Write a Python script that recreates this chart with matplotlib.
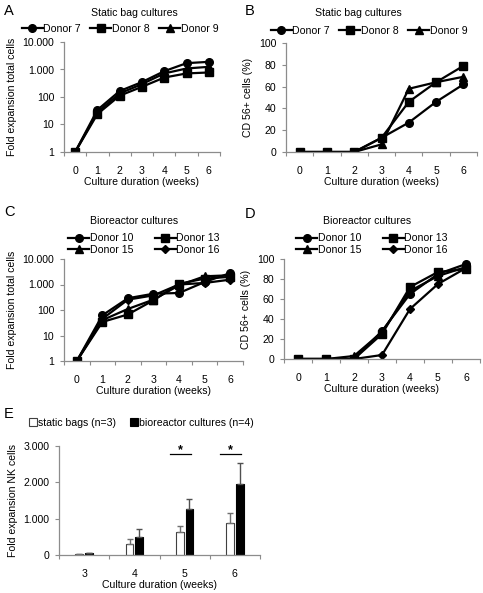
import numpy as np
import matplotlib as mpl
mpl.use('Agg')
import matplotlib.pyplot as plt
from matplotlib.ticker import FuncFormatter, FixedLocator, NullLocator

plt.rcParams['font.family'] = ['Liberation Sans', 'DejaVu Sans']
plt.rcParams['font.size'] = 7.6

weeks = [0, 1, 2, 3, 4, 5, 6]

# A: static bags, fold expansion total cells
a_d7 = [1, 34, 165, 350, 870, 1700, 1900]
a_d8 = [1, 24, 112, 235, 510, 720, 780]
a_d9 = [1, 28, 135, 295, 720, 1090, 1250]

# B: static bags, CD56+ (%)
b_d7 = [0, 0, 0, 13, 27, 46, 62]
b_d8 = [0, 0, 0, 13, 46, 64, 79]
b_d9 = [0, 0, 0, 7, 58, 64, 69]

# C: bioreactor, fold expansion total cells
c_d10 = [1, 62, 290, 435, 465, 1250, 2800]
c_d13 = [1, 34, 67, 240, 1070, 1700, 2000]
c_d15 = [1, 40, 110, 255, 930, 2100, 2300]
c_d16 = [1, 45, 255, 375, 1000, 1150, 1550]

# D: bioreactor, CD56+ (%)
d_d10 = [0, 0, 0, 28, 65, 85, 95]
d_d13 = [0, 0, 0, 25, 72, 87, 90]
d_d15 = [0, 0, 3, 27, 68, 83, 92]
d_d16 = [0, 0, 0, 4, 50, 75, 91]

# E: NK cell fold expansion
e_weeks = ['3', '4', '5', '6']
e_static = [30, 303, 633, 881]
e_static_err = [10, 128, 156, 266]
e_bio = [45, 505, 1266, 1954]
e_bio_err = [20, 211, 284, 569]
sig_weeks = [2, 3]  # indices with significance marker
sig_level = 2780

W, H = 483, 593
FS = 7.6
fig = plt.figure(figsize=(W / 100, H / 100), dpi=100)


def px_axes(l, t, r, b):
    return fig.add_axes([l / W, 1 - b / H, (r - l) / W, (b - t) / H])


def fx(x):
    return x / W


def fy(y):
    return 1 - y / H


def style(ax, nx):
    for s in ['top', 'right']:
        ax.spines[s].set_visible(False)
    for s in ['left', 'bottom']:
        ax.spines[s].set_color('#8c8c8c')
        ax.spines[s].set_linewidth(0.9)
    ax.set_xlim(-0.5, nx - 0.5)
    ax.xaxis.set_major_locator(FixedLocator(list(range(nx))))
    ax.xaxis.set_minor_locator(FixedLocator([i + 0.5 for i in range(-1, nx)]))
    ax.tick_params(axis='x', which='major', length=0, pad=10, labelsize=FS)
    ax.tick_params(axis='x', which='minor', length=3, color='#8c8c8c', width=0.8)
    ax.tick_params(axis='y', which='major', length=3, color='#8c8c8c', width=0.8,
                   pad=4, labelsize=FS)


dots = FuncFormatter(lambda v, p: '{:,.0f}'.format(v).replace(',', '.'))


def draw_lines(ax, series, labels, markers):
    for ys, lab, m in zip(series, labels, markers):
        ms = 4.5 if m == 'D' else 5.5
        ax.plot(weeks, ys, marker=m, color='black', lw=1.6, ms=ms, label=lab)


def log_axis(ax):
    ax.set_yscale('log')
    ax.set_ylim(1, 10000)
    ax.yaxis.set_major_locator(FixedLocator([1, 10, 100, 1000, 10000]))
    ax.yaxis.set_minor_locator(NullLocator())
    ax.yaxis.set_major_formatter(dots)


def pct_axis(ax):
    ax.set_ylim(0, 100)
    ax.set_yticks([0, 20, 40, 60, 80, 100])


def legend3(ax, x, y):
    ax.legend(loc='center', bbox_to_anchor=(fx(x), fy(y)), bbox_transform=fig.transFigure,
              ncol=3, frameon=False, fontsize=FS, handlelength=2.0, handletextpad=0.05,
              columnspacing=0.9, borderaxespad=0, borderpad=0)


def legend4(ax, x, y):
    h, l = ax.get_legend_handles_labels()
    order = [0, 2, 1, 3]  # fill rows: 10, 13 / 15, 16
    ax.legend([h[i] for i in order], [l[i] for i in order], loc='center',
              bbox_to_anchor=(fx(x), fy(y)), bbox_transform=fig.transFigure,
              ncol=2, frameon=False, fontsize=FS, handlelength=2.0, handletextpad=0.05,
              columnspacing=2.0, borderaxespad=0, borderpad=0, labelspacing=0.15)


# Panel A
axA = px_axes(64, 42, 220, 152)
draw_lines(axA, [a_d7, a_d8, a_d9], ['Donor 7', 'Donor 8', 'Donor 9'], ['o', 's', '^'])
log_axis(axA)
style(axA, 7)
axA.set_ylabel('Fold expansion total cells', fontsize=FS, labelpad=4)
axA.set_xlabel('Culture duration (weeks)', fontsize=FS, labelpad=1)
legend3(axA, 120, 29)
fig.text(fx(134), fy(13), 'Static bag cultures', ha='center', va='center', fontsize=FS)
fig.text(fx(4), fy(11), 'A', ha='left', va='center', fontsize=10.5)

# Panel B
axB = px_axes(286, 43, 477, 152)
draw_lines(axB, [b_d7, b_d8, b_d9], ['Donor 7', 'Donor 8', 'Donor 9'], ['o', 's', '^'])
pct_axis(axB)
style(axB, 7)
axB.set_ylabel('CD 56+ cells (%)', fontsize=FS, labelpad=4)
axB.set_xlabel('Culture duration (weeks)', fontsize=FS, labelpad=1)
legend3(axB, 369, 31)
fig.text(fx(358), fy(13), 'Static bag cultures', ha='center', va='center', fontsize=FS)
fig.text(fx(245), fy(11), 'B', ha='left', va='center', fontsize=10.5)

# Panel C
axC = px_axes(64, 259, 243, 361)
draw_lines(axC, [c_d10, c_d13, c_d15, c_d16], ['Donor 10', 'Donor 13', 'Donor 15', 'Donor 16'],
           ['o', 's', '^', 'D'])
log_axis(axC)
style(axC, 7)
axC.set_ylabel('Fold expansion total cells', fontsize=FS, labelpad=4)
axC.set_xlabel('Culture duration (weeks)', fontsize=FS, labelpad=1)
legend4(axC, 144, 244)
fig.text(fx(134), fy(221), 'Bioreactor cultures', ha='center', va='center', fontsize=FS)
fig.text(fx(4), fy(212), 'C', ha='left', va='center', fontsize=10.5)

# Panel D
axD = px_axes(284, 259, 480, 359)
draw_lines(axD, [d_d10, d_d13, d_d15, d_d16], ['Donor 10', 'Donor 13', 'Donor 15', 'Donor 16'],
           ['o', 's', '^', 'D'])
pct_axis(axD)
style(axD, 7)
axD.set_ylabel('CD 56+ cells (%)', fontsize=FS, labelpad=4)
axD.set_xlabel('Culture duration (weeks)', fontsize=FS, labelpad=1)
legend4(axD, 372, 244)
fig.text(fx(367), fy(221), 'Bioreactor cultures', ha='center', va='center', fontsize=FS)
fig.text(fx(245), fy(214), 'D', ha='left', va='center', fontsize=10.5)

# Panel E
axE = px_axes(59, 446, 260, 555)
xi = np.arange(len(e_weeks))
off, bw = 0.095, 0.155
axE.bar(xi - off, e_static, bw, color='white', edgecolor='#404040', lw=0.8,
        label='static bags (n=3)')
axE.bar(xi + off, e_bio, bw, color='black', edgecolor='black', lw=0.8,
        label='bioreactor cultures (n=4)')
axE.errorbar(xi - off, e_static, yerr=[np.zeros(4), e_static_err], fmt='none',
             ecolor='#707070', elinewidth=1.0, capsize=2.5, capthick=1.0)
axE.errorbar(xi + off, e_bio, yerr=[np.zeros(4), e_bio_err], fmt='none',
             ecolor='#505050', elinewidth=1.0, capsize=2.5, capthick=1.0)
for i in sig_weeks:
    axE.plot([i - 0.29, i + 0.13], [sig_level, sig_level], color='black', lw=0.9)
    axE.text(i - 0.09, sig_level - 60, '*', ha='center', va='bottom', fontsize=9,
             fontweight='bold')
axE.set_ylim(0, 3000)
axE.set_yticks([0, 1000, 2000, 3000])
axE.yaxis.set_major_formatter(dots)
style(axE, 4)
axE.set_xticklabels(e_weeks)
axE.set_ylabel('Fold expansion NK cells', fontsize=FS, labelpad=4)
axE.set_xlabel('Culture duration (weeks)', fontsize=FS, labelpad=1)
axE.legend(loc='center left', bbox_to_anchor=(fx(29), fy(423)), bbox_transform=fig.transFigure,
           ncol=2, frameon=False, fontsize=FS, handlelength=0.75, handleheight=0.75,
           handletextpad=0.1, columnspacing=1.3, borderaxespad=0, borderpad=0)
fig.text(fx(4), fy(414), 'E', ha='left', va='center', fontsize=10.5)

fig.savefig('out.png', dpi=100)
